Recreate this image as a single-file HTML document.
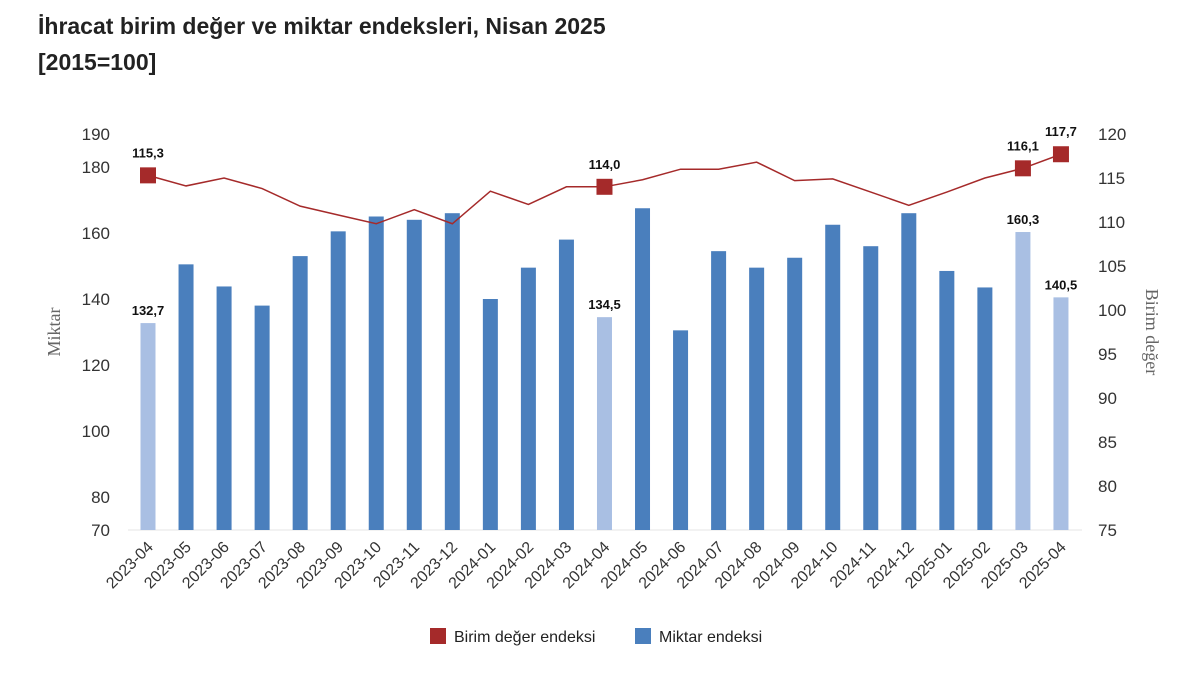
<!DOCTYPE html>
<html><head><meta charset="utf-8"><style>
body{margin:0;background:#fff;width:1200px;height:689px;overflow:hidden;font-family:"Liberation Sans",sans-serif}
</style></head><body>
<svg width="1200" height="689" xmlns="http://www.w3.org/2000/svg" font-family="Liberation Sans, sans-serif">
<text x="38" y="34" font-size="23" font-weight="bold" fill="#222">İhracat birim değer ve miktar endeksleri, Nisan 2025</text>
<text x="38" y="70" font-size="23" font-weight="bold" fill="#222">[2015=100]</text>
<line x1="128" y1="530" x2="1082" y2="530" stroke="#e6e6e6"/>
<g font-size="17" fill="#333" text-anchor="end">
<text x="110" y="140">190</text><text x="110" y="173">180</text><text x="110" y="239">160</text><text x="110" y="305">140</text><text x="110" y="371">120</text><text x="110" y="437">100</text><text x="110" y="503">80</text><text x="110" y="536">70</text>
</g>
<g font-size="17" fill="#333">
<text x="1098" y="140">120</text><text x="1098" y="184">115</text><text x="1098" y="228">110</text><text x="1098" y="272">105</text><text x="1098" y="316">100</text><text x="1098" y="360">95</text><text x="1098" y="404">90</text><text x="1098" y="448">85</text><text x="1098" y="492">80</text><text x="1098" y="536">75</text>
</g>
<text transform="translate(60,332) rotate(-90)" font-family="Liberation Serif, serif" font-size="18" fill="#666" text-anchor="middle">Miktar</text>
<text transform="translate(1146,332) rotate(90)" font-family="Liberation Serif, serif" font-size="18" fill="#666" text-anchor="middle">Birim değer</text>
<g id="bars"></g>
<g id="line"></g>
<g id="lbl" font-size="13" font-weight="bold" fill="#111" text-anchor="middle"></g>
<g id="xt" font-size="16" fill="#333"></g>
<rect x="430" y="628" width="16" height="16" fill="#a52a2a"/>
<text x="454" y="642" font-size="16" fill="#222">Birim değer endeksi</text>
<rect x="635" y="628" width="16" height="16" fill="#4a7fbd"/>
<text x="659" y="642" font-size="16" fill="#222">Miktar endeksi</text>
</svg>
<script>
const q=[132.7,150.5,143.8,138,153,160.5,165,164,166,140,149.5,158,134.5,167.5,130.5,154.5,149.5,152.5,162.5,156,166,148.5,143.5,160.3,140.5];
const u=[115.3,114.1,115,113.8,111.8,110.8,109.8,111.4,109.8,113.5,112,114,114,114.8,116,116,116.8,114.7,114.9,113.4,111.9,113.4,115,116.1,117.7];
const light=[0,12,23,24];const ns="http://www.w3.org/2000/svg";
const labels=["2023-04","2023-05","2023-06","2023-07","2023-08","2023-09","2023-10","2023-11","2023-12","2024-01","2024-02","2024-03","2024-04","2024-05","2024-06","2024-07","2024-08","2024-09","2024-10","2024-11","2024-12","2025-01","2025-02","2025-03","2025-04"];
function el(t,a,p){const e=document.createElementNS(ns,t);for(const k in a)e.setAttribute(k,a[k]);document.getElementById(p).appendChild(e);return e;}
const X=i=>148+i*38.04, YL=v=>530-(v-70)*3.3, YR=v=>530-(v-75)*8.8;
let pts=[];
q.forEach((v,i)=>{const y=YL(v);el("rect",{x:X(i)-7.5,y:y,width:15,height:530-y,fill:light.includes(i)?"#a9bfe3":"#4a7fbd"},"bars");
pts.push(X(i)+","+YR(u[i]));
const t=el("text",{transform:`translate(${X(i)+6},548) rotate(-45)`,"text-anchor":"end"},"xt");t.textContent=labels[i];});
el("polyline",{points:pts.join(" "),fill:"none",stroke:"#a52a2a","stroke-width":1.5},"line");
[0,12,23,24].forEach(i=>{el("rect",{x:X(i)-8,y:YR(u[i])-8,width:16,height:16,fill:"#a52a2a"},"line");
let t=el("text",{x:X(i),y:YR(u[i])-18},"lbl");t.textContent=u[i].toFixed(1).replace(".",",");
t=el("text",{x:X(i),y:YL(q[i])-8},"lbl");t.textContent=q[i].toFixed(1).replace(".",",");});
</script>
</body></html>
